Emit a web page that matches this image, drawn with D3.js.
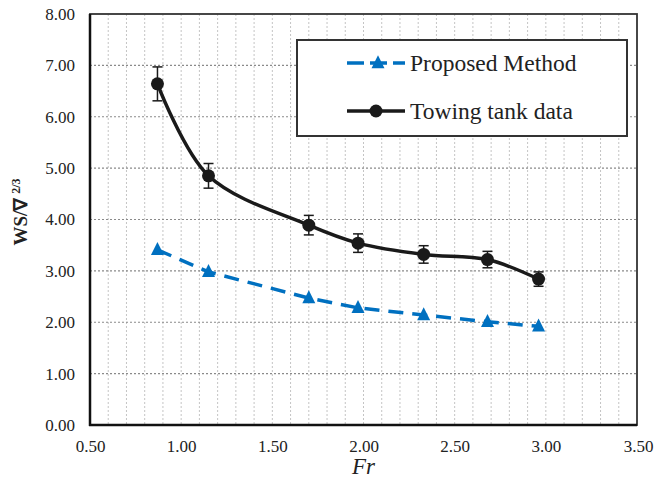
<!DOCTYPE html>
<html><head><meta charset="utf-8">
<script src="https://cdn.jsdelivr.net/npm/d3@7"></script>
<style>
html,body{margin:0;padding:0;background:#fff;}
svg{display:block;}
</style></head>
<body>
<svg id="chart" width="654" height="485"></svg>
<script>
// Data
const froude = [0.87, 1.15, 1.70, 1.97, 2.33, 2.68, 2.96];
const proposed = [3.41, 2.98, 2.47, 2.28, 2.14, 2.01, 1.92];
const towing = [6.64, 4.85, 3.89, 3.54, 3.32, 3.22, 2.84];
const towingErr = [0.33, 0.24, 0.19, 0.18, 0.17, 0.16, 0.14];
const xTicks = [0.5, 1.0, 1.5, 2.0, 2.5, 3.0, 3.5];
const yTicks = [0, 1, 2, 3, 4, 5, 6, 7, 8];
const seriesNames = ["Proposed Method", "Towing tank data"];

const FONT = "'Liberation Serif'";
const svg = d3.select("#chart");
const L = 90, R = 637, T = 14, B = 425;
const x = d3.scaleLinear().domain([0.5, 3.5]).range([L, R]);
const y = d3.scaleLinear().domain([0, 8]).range([B, T]);
const blue = "#0070C0", black = "#1a1a1a";

// vertical minor gridlines
const vGrid = d3.range(6, 35).map(d => d / 10);
svg.append("g").selectAll("line").data(vGrid).join("line")
  .attr("x1", d => x(d)).attr("x2", d => x(d)).attr("y1", T).attr("y2", B)
  .attr("stroke", "#c4c4c4").attr("stroke-width", 1).attr("stroke-dasharray", "2,2");
// horizontal gridlines
svg.append("g").selectAll("line").data(yTicks.slice(1, -1)).join("line")
  .attr("x1", L).attr("x2", R).attr("y1", d => y(d)).attr("y2", d => y(d))
  .attr("stroke", "#8a8a8a").attr("stroke-width", 1.2).attr("stroke-dasharray", "2,2");

// plot frame
svg.append("rect").attr("x", L).attr("y", T).attr("width", R - L).attr("height", B - T)
  .attr("fill", "none").attr("stroke", "#333").attr("stroke-width", 1.8);
svg.append("line").attr("x1", L).attr("x2", L).attr("y1", T).attr("y2", B + 1)
  .attr("stroke", "#111").attr("stroke-width", 2.5);
svg.append("line").attr("x1", L - 1).attr("x2", R).attr("y1", B).attr("y2", B)
  .attr("stroke", "#111").attr("stroke-width", 2.5);

// axes via d3 (labels only)
const xAxis = d3.axisBottom(x).tickValues(xTicks).tickFormat(d3.format(".2f")).tickSize(0).tickPadding(15);
const gx = svg.append("g").attr("transform", `translate(0,${B})`).call(xAxis);
gx.attr("font-family", FONT).attr("font-size", 17);
gx.select(".domain").remove();
gx.selectAll("text").style("font-family", FONT).style("font-size", "17px").attr("fill", "#222")
  .attr("dx", d => d === 3.5 ? 1 : 0);

const yAxis = d3.axisLeft(y).tickValues(yTicks).tickFormat(d3.format(".2f")).tickSize(0).tickPadding(15);
const gy = svg.append("g").attr("transform", `translate(${L},0)`).call(yAxis);
gy.attr("font-family", FONT).attr("font-size", 17);
gy.select(".domain").remove();
gy.selectAll("text").style("font-family", FONT).style("font-size", "17px").attr("fill", "#222");

// axis titles
svg.append("text").attr("x", (L + R) / 2).attr("y", 474).attr("text-anchor", "middle")
  .style("font-family", FONT).style("font-size", "23px").style("font-style", "italic").attr("fill", "#222").text("Fr");
const yt = svg.append("text").attr("transform", "translate(27,212) rotate(-90)")
  .attr("text-anchor", "middle").style("font-family", FONT).style("font-size", "19px")
  .style("font-weight", "bold").attr("fill", "#222");
yt.append("tspan").text("WS/∇");
yt.append("tspan").style("font-size", "12px").attr("dy", -7).attr("dx", 4).text("2/3");

// Proposed method line
const data1 = froude.map((f, i) => [f, proposed[i]]);
const data2 = froude.map((f, i) => [f, towing[i]]);
svg.append("path").datum(data1)
  .attr("d", d3.line().x(d => x(d[0])).y(d => y(d[1])))
  .attr("fill", "none").attr("stroke", blue).attr("stroke-width", 3.5)
  .attr("stroke-dasharray", "15,9");
const tri = (cx, cy, s) => `M${cx},${cy - s * 0.6}L${cx + s / 2},${cy + s * 0.4}L${cx - s / 2},${cy + s * 0.4}Z`;
svg.append("g").selectAll("path").data(data1).join("path")
  .attr("d", d => tri(x(d[0]), y(d[1]), 13)).attr("fill", blue);

// Towing tank: error bars
const eb = svg.append("g").attr("stroke", black).attr("stroke-width", 1.5);
data2.forEach((d, i) => {
  const cx = x(d[0]), y1 = y(d[1] + towingErr[i]), y0 = y(d[1] - towingErr[i]);
  eb.append("line").attr("x1", cx).attr("x2", cx).attr("y1", y1).attr("y2", y0);
  eb.append("line").attr("x1", cx - 5).attr("x2", cx + 5).attr("y1", y1).attr("y2", y1);
  eb.append("line").attr("x1", cx - 5).attr("x2", cx + 5).attr("y1", y0).attr("y2", y0);
});
svg.append("path").datum(data2)
  .attr("d", d3.line().x(d => x(d[0])).y(d => y(d[1])).curve(d3.curveCatmullRom.alpha(0.5)))
  .attr("fill", "none").attr("stroke", black).attr("stroke-width", 3.5);
svg.append("g").selectAll("circle").data(data2).join("circle")
  .attr("cx", d => x(d[0])).attr("cy", d => y(d[1])).attr("r", 6.5).attr("fill", black);

// Legend
const lg = svg.append("g");
lg.append("rect").attr("x", 297).attr("y", 40).attr("width", 330).attr("height", 96)
  .attr("fill", "#fff").attr("stroke", "#333").attr("stroke-width", 2);
const rows = [63, 111];
lg.append("line").attr("x1", 347).attr("x2", 405).attr("y1", rows[0]).attr("y2", rows[0])
  .attr("stroke", blue).attr("stroke-width", 3.5).attr("stroke-dasharray", "17,6");
lg.append("path").attr("d", tri(378, rows[0], 13)).attr("fill", blue);
lg.append("line").attr("x1", 347).attr("x2", 405).attr("y1", rows[1]).attr("y2", rows[1])
  .attr("stroke", black).attr("stroke-width", 3.5);
lg.append("circle").attr("cx", 376).attr("cy", rows[1]).attr("r", 6.5).attr("fill", black);
seriesNames.forEach((n, i) => {
  lg.append("text").attr("x", 410).attr("y", rows[i]).attr("dy", "0.35em")
    .style("font-family", FONT).style("font-size", "23.5px").attr("fill", "#222").text(n);
});
</script>
</body></html>
